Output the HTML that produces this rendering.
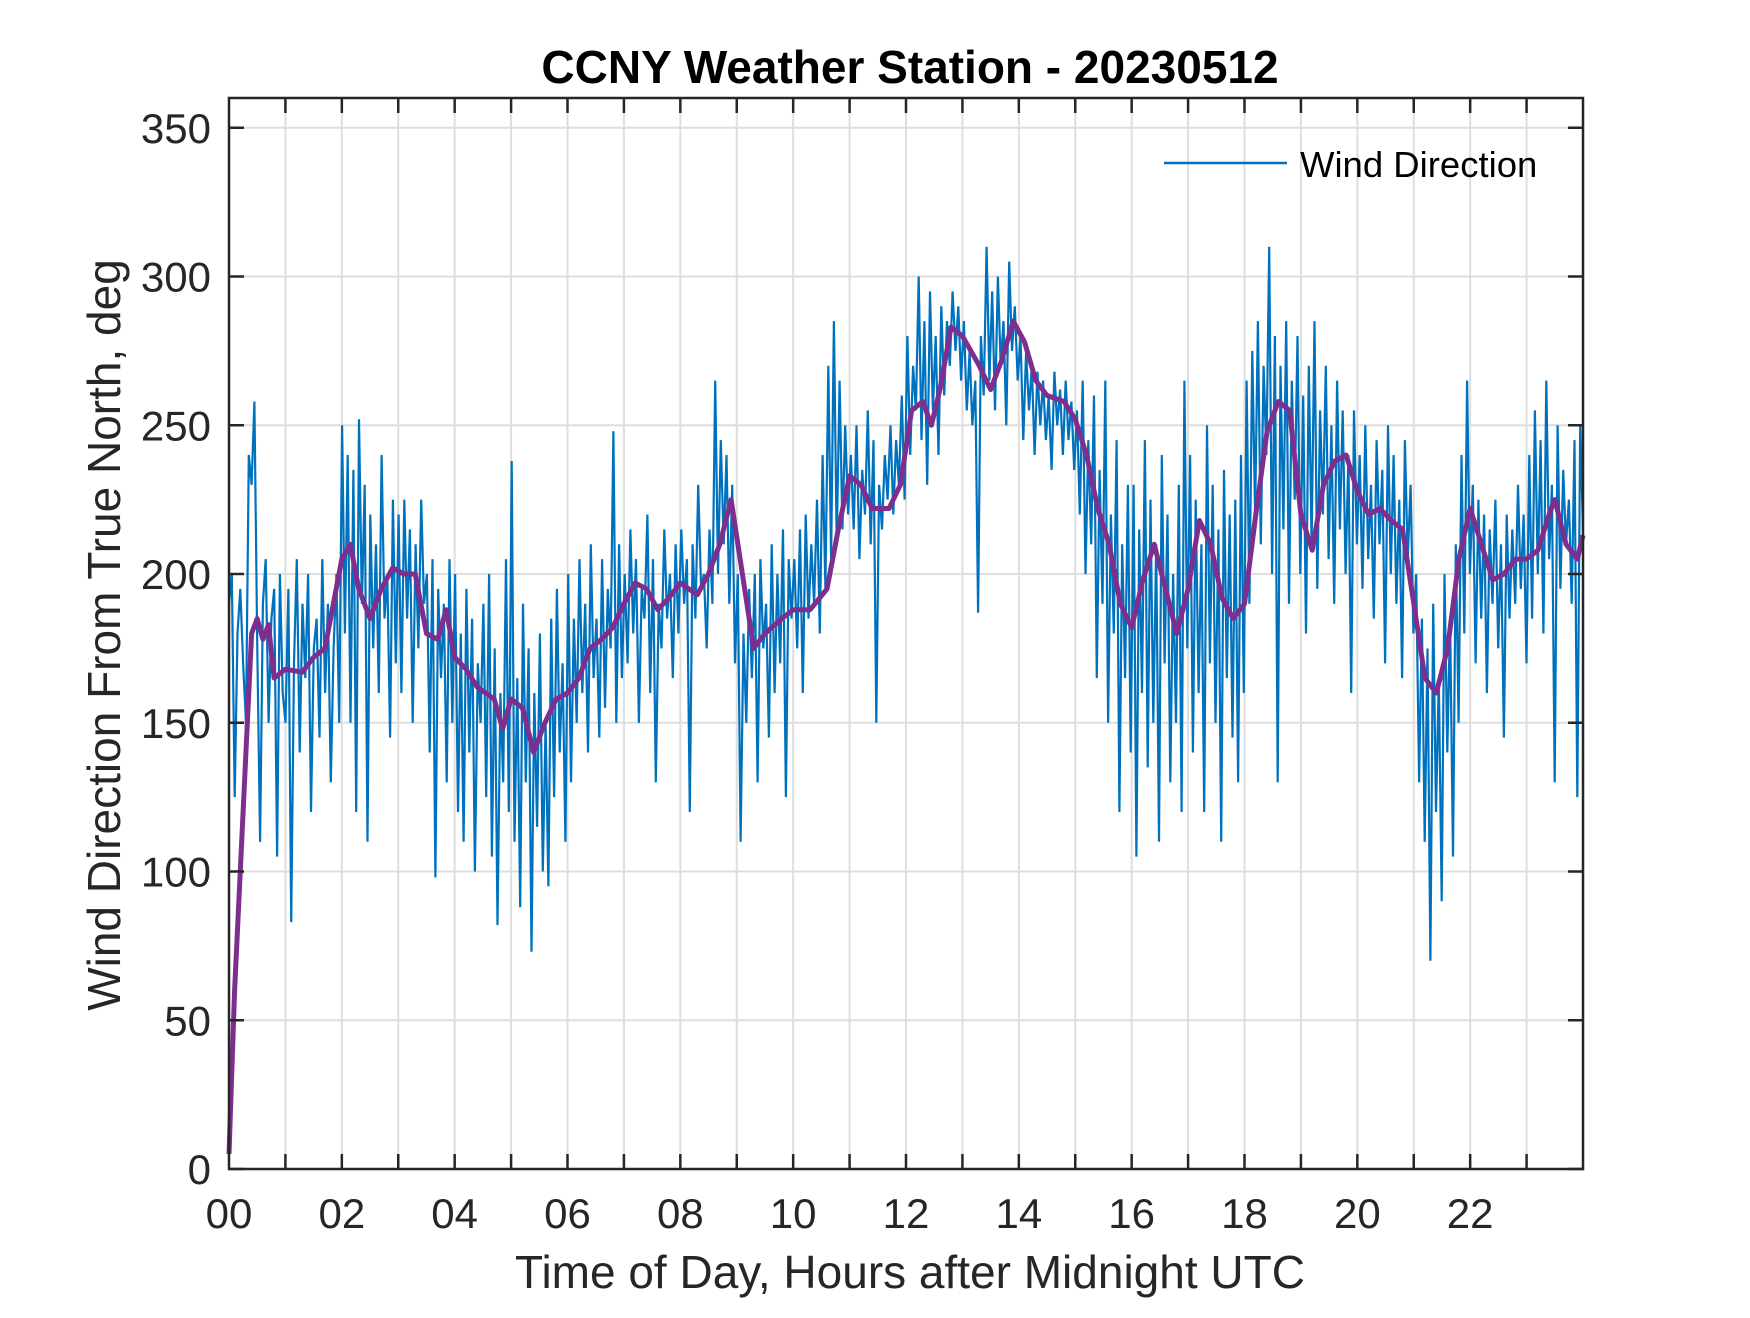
<!DOCTYPE html>
<html><head><meta charset="utf-8"><style>
html,body{margin:0;padding:0;background:#fff;}
svg text{font-family:"Liberation Sans",Arial,sans-serif;fill:#262626;}
</style></head><body>
<svg id="chart" width="1750" height="1313" viewBox="0 0 1750 1313" xmlns="http://www.w3.org/2000/svg">
<rect width="1750" height="1313" fill="#fff"/>
<g id="grid"></g>
<g id="series"></g>
<g id="axes"></g>
<text x="910" y="83" text-anchor="middle" font-size="46" font-weight="bold" style="fill:#000">CCNY Weather Station - 20230512</text>
<text x="910" y="1288" text-anchor="middle" font-size="46">Time of Day, Hours after Midnight UTC</text>
<text transform="translate(120,635) rotate(-90)" text-anchor="middle" font-size="46">Wind Direction From True North, deg</text>
<g>
<line x1="1164" y1="163" x2="1287" y2="163" stroke="#0072BD" stroke-width="2.5"/>
<text x="1300" y="177" font-size="36.5" style="fill:#000">Wind Direction</text>
</g>
</svg>
<script>
const xTicks=[0,2,4,6,8,10,12,14,16,18,20,22];
const xTickLabels=["00","02","04","06","08","10","12","14","16","18","20","22"];
const yTicks=[0,50,100,150,200,250,300,350];
const blueValues=[
190,200,125,180,195,170,150,240,230,258,175,110,190,205,150,185,195,105,200,160,
150,195,83,170,205,140,190,165,200,120,175,185,145,205,160,190,130,175,200,150,
250,180,240,150,235,120,252,190,230,110,220,175,210,160,240,185,200,145,225,170,
220,160,225,185,215,150,210,175,225,190,200,140,205,98,195,165,190,130,205,150,
200,120,180,110,195,140,185,100,170,150,190,125,200,105,175,82,160,130,205,120,
238,110,165,88,190,130,175,73,160,115,180,100,150,95,185,125,195,140,170,110,
200,130,185,150,205,160,190,140,210,165,185,145,205,155,195,175,248,150,210,165,
200,170,215,180,205,150,195,185,220,160,205,130,190,175,215,185,200,165,210,180,
215,190,205,120,210,185,230,195,200,175,215,190,265,200,245,210,240,190,230,170,
200,110,180,150,195,165,200,130,205,175,190,145,210,160,200,170,215,125,205,185,
205,175,215,160,220,185,210,190,225,180,240,195,270,205,285,210,265,215,250,220,
240,215,250,205,235,220,255,210,245,150,230,215,240,225,250,220,245,230,260,225,
280,240,270,255,300,245,285,230,295,255,280,240,290,260,285,270,295,275,290,265,
285,255,275,250,265,187,280,260,310,265,295,255,300,270,285,250,305,275,290,265,
280,245,275,255,270,240,268,250,265,245,260,235,268,250,262,240,265,245,258,235,
255,220,265,200,245,210,260,165,235,190,265,150,220,180,245,120,210,165,230,140,
230,105,215,160,245,135,225,150,210,110,240,170,220,130,200,150,230,120,265,175,
240,140,225,160,210,120,250,170,230,150,215,110,235,165,220,145,225,130,240,160,
265,190,275,220,285,210,270,240,310,200,280,130,270,215,285,190,265,225,280,200,
260,180,270,210,285,195,255,220,270,205,250,190,265,215,255,200,240,160,255,210,
240,195,250,205,230,185,245,210,235,170,250,200,240,190,225,165,245,205,230,180,
200,130,185,110,175,70,190,120,165,90,200,140,185,105,210,150,240,180,265,200,
230,170,225,185,220,160,215,190,225,175,210,145,220,185,215,190,230,195,220,170,
240,185,255,200,245,180,265,205,230,130,250,195,235,210,225,190,245,125,250,215];
const smoothHours=[0,0.1,0.25,0.4,0.5,0.6,0.7,0.8,1.0,1.3,1.5,1.7,2.0,2.15,2.3,2.5,2.7,2.9,3.1,3.3,3.5,3.7,3.85,4.0,4.2,4.4,4.7,4.85,5.0,5.2,5.4,5.6,5.8,6.0,6.2,6.4,6.6,6.8,7.0,7.2,7.4,7.6,7.8,8.0,8.3,8.5,8.7,8.9,9.1,9.3,9.5,9.8,10.0,10.3,10.6,10.8,11.0,11.2,11.4,11.7,11.9,12.1,12.3,12.45,12.6,12.8,13.0,13.3,13.5,13.7,13.9,14.1,14.3,14.5,14.8,15.0,15.2,15.4,15.6,15.8,16.0,16.2,16.4,16.6,16.8,17.0,17.2,17.4,17.6,17.8,18.0,18.2,18.4,18.6,18.8,19.0,19.2,19.4,19.6,19.8,20.0,20.2,20.4,20.6,20.8,21.0,21.2,21.4,21.6,21.8,22.0,22.2,22.4,22.6,22.8,23.0,23.2,23.4,23.5,23.7,23.9,24];
const smoothValues=[5,60,120,180,185,178,183,165,168,167,172,175,205,210,195,185,195,202,200,200,180,178,188,172,168,162,158,148,158,155,140,150,158,160,165,175,178,182,190,197,195,188,192,197,193,200,210,225,200,175,180,185,188,188,195,215,233,230,222,222,230,255,258,250,262,283,280,270,262,272,285,278,265,260,258,252,240,222,210,190,182,198,210,195,180,195,218,210,192,185,190,220,248,258,255,220,208,230,238,240,228,220,222,218,215,190,165,160,175,205,222,210,198,200,205,205,208,220,225,210,205,213];

const L=229,R=1583,T=98,B=1169;
const xS=h=>L+(h/24)*(R-L);
const yS=v=>B-(v/360)*(B-T);
const NS="http://www.w3.org/2000/svg";
const grid=document.getElementById('grid'),axes=document.getElementById('axes'),series=document.getElementById('series');
function mk(tag,attrs,parent){const e=document.createElementNS(NS,tag);for(const k in attrs)e.setAttribute(k,attrs[k]);parent.appendChild(e);return e;}
for(let h=1;h<24;h++){
  const g=mk('line',{x1:xS(h),x2:xS(h),y1:T,y2:B,stroke:'#dedede','stroke-width':2},grid);
  
  
  for(const [y1,y2] of [[B,B-15],[T,T+15]]){
    const t=mk('line',{x1:xS(h),x2:xS(h),y1:y1,y2:y2,stroke:'#262626','stroke-width':2.5},axes);
    
    
  }
}
yTicks.forEach(v=>{
  if(v>0){
    const g=mk('line',{x1:L,x2:R,y1:yS(v),y2:yS(v),stroke:'#dedede','stroke-width':2},grid);
    
    
  }
  for(const [x1,x2] of [[L,L+15],[R,R-15]]){
    const t=mk('line',{x1:x1,x2:x2,y1:yS(v),y2:yS(v),stroke:'#262626','stroke-width':2.5},axes);
    
    
  }
  const lb=mk('text',{x:L-18,y:yS(v)+15,'text-anchor':'end','font-size':42},axes);
  lb.textContent=v;
  
  
});
xTicks.forEach((h,i)=>{
  const lb=mk('text',{x:xS(h),y:1228,'text-anchor':'middle','font-size':42},axes);
  lb.textContent=xTickLabels[i];
  
  
});
const box=mk('rect',{x:L,y:T,width:R-L,height:B-T,fill:'none',stroke:'#262626','stroke-width':2.5},axes);



const n=blueValues.length;
const bp=blueValues.map((v,i)=>xS(i*24/(n-1)).toFixed(1)+','+yS(v).toFixed(1)).join(' ');
const blue=mk('polyline',{points:bp,fill:'none',stroke:'#0072BD','stroke-width':2.2,'stroke-linejoin':'miter'},series);


const sp=smoothValues.map((v,i)=>xS(smoothHours[i]).toFixed(1)+','+yS(v).toFixed(1)).join(' ');
const purple=mk('polyline',{points:sp,fill:'none',stroke:'#7E2F8E','stroke-width':5,'stroke-linejoin':'round'},series);


</script>
</body></html>
